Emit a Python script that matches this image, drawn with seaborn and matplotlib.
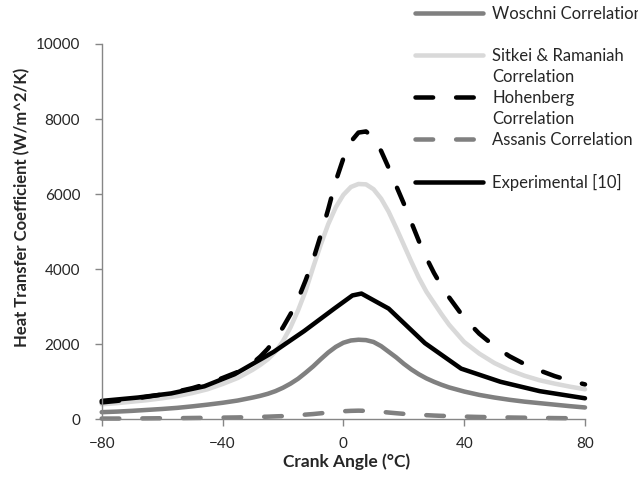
import numpy as np
import pandas as pd
import matplotlib
matplotlib.use('Agg')
import matplotlib.pyplot as plt
from matplotlib.lines import Line2D
import seaborn as sns

# crank angle grid for the correlation curves (deg)
angle = [-80, -75, -70, -65, -60, -55, -50, -45, -40, -35, -30, -27.5, -25, -22.5, -20, -17.5,
         -15, -12.5, -10, -7.5, -5, -2.5, 0, 2.5, 5, 7.5, 10, 12.5, 15, 17.5, 20, 22.5, 25,
         27.5, 30, 32.5, 35, 40, 45, 50, 55, 60, 65, 70, 75, 80]

woschni = [190, 205, 225, 250, 275, 305, 345, 390, 440, 500, 580, 625, 680, 750, 840, 950,
           1080, 1240, 1410, 1600, 1780, 1930, 2040, 2100, 2120, 2110, 2060, 1950, 1800, 1650, 1480, 1330, 1200,
           1090, 1000, 920, 850, 740, 650, 580, 520, 470, 430, 390, 350, 315]
sitkei = [400, 430, 470, 510, 560, 620, 700, 800, 940, 1100, 1320, 1450, 1600, 1800, 2080, 2450,
          2900, 3420, 4050, 4650, 5200, 5650, 5980, 6190, 6270, 6260, 6130, 5880, 5530, 5100, 4650, 4200, 3770,
          3400, 3100, 2800, 2520, 2060, 1750, 1500, 1310, 1160, 1040, 950, 870, 800]
hohenberg = [450, 490, 540, 600, 660, 740, 830, 950, 1100, 1260, 1500, 1670, 1880, 2150, 2450, 2800,
             3200, 3700, 4250, 4900, 5600, 6350, 6950, 7400, 7640, 7670, 7500, 7150, 6700, 6220, 5750, 5250, 4750,
             4300, 3900, 3550, 3250, 2700, 2280, 1950, 1680, 1470, 1300, 1150, 1030, 930]
assanis = [20, 20, 22, 25, 28, 30, 35, 40, 45, 50, 60, 65, 70, 78, 85, 97,
           110, 125, 140, 160, 180, 200, 215, 225, 230, 225, 215, 200, 180, 162, 145, 132, 120,
           110, 100, 92, 85, 72, 62, 55, 48, 42, 37, 32, 28, 25]

# experimental points
exp_angle = [-80, -68, -57, -46, -36, -23, -13, -3, 3, 6, 15, 27, 39, 52, 65, 80]
experimental = [490, 580, 690, 880, 1200, 1800, 2350, 2950, 3300, 3350, 2950, 2030, 1350, 1000, 750, 560]

x_ticks = [-80, -40, 0, 40, 80]
y_ticks = [0, 2000, 4000, 6000, 8000, 10000]

sns.set_theme(style='white')
plt.rcParams['font.family'] = ['Lato', 'DejaVu Sans']

fig = plt.figure(figsize=(6.38, 4.86), dpi=100)
ax = fig.add_axes([101.7 / 638, 66.7 / 486, (585 - 101.7) / 638, (442 - 66.7) / 486])

df = pd.DataFrame({'angle': angle, 'woschni': woschni, 'sitkei': sitkei,
                   'hohenberg': hohenberg, 'assanis': assanis})
df_exp = pd.DataFrame({'angle': exp_angle, 'experimental': experimental})

grey = '#808080'
light = '#d9d9d9'
lw = 3.25
dash = [3.9, 5.1]

sns.lineplot(data=df, x='angle', y='woschni', ax=ax, color=grey, lw=lw)
sns.lineplot(data=df, x='angle', y='sitkei', ax=ax, color=light, lw=lw)
sns.lineplot(data=df, x='angle', y='hohenberg', ax=ax, color='black', lw=lw)
ax.lines[-1].set_dashes(dash)
ax.lines[-1].set_dash_capstyle('round')
sns.lineplot(data=df, x='angle', y='assanis', ax=ax, color=grey, lw=lw)
ax.lines[-1].set_dashes(dash)
ax.lines[-1].set_dash_capstyle('round')
sns.lineplot(data=df_exp, x='angle', y='experimental', ax=ax, color='black', lw=lw)
for ln in ax.lines:
    ln.set_solid_joinstyle('round')
    ln.set_clip_on(False)

ax.set_xlim(-80, 80)
ax.set_ylim(0, 10000)
ax.set_xticks(x_ticks)
ax.set_yticks(y_ticks)
ax.tick_params(axis='both', which='both', direction='out', length=5, width=1,
               color='#868686', labelsize=11, left=True, bottom=True)
ax.tick_params(axis='x', pad=8)
ax.tick_params(axis='y', pad=10.5)
for side in ['top', 'right']:
    ax.spines[side].set_visible(False)
for side in ['left', 'bottom']:
    ax.spines[side].set_color('#868686')
    ax.spines[side].set_linewidth(1)
ax.grid(False)

ax.set_xlabel('Crank Angle (°C)', fontsize=12.5, fontweight='bold')
ax.xaxis.set_label_coords(0.507, -0.09)
ax.set_ylabel('Heat Transfer Coefficient (W/m^2/K)', fontsize=12, fontweight='bold')
ax.yaxis.set_label_coords(-0.148, 0.566)

# legend rows, blank handles carry the wrapped second lines
# (the reference legend runs past the right edge, so its first label is cut there too)
blank = Line2D([], [], color='none')
h_wos = Line2D([], [], color=grey, lw=lw)
h_sit = Line2D([], [], color=light, lw=lw)
h_hoh = Line2D([], [], color='black', lw=lw, dashes=dash, dash_capstyle='round')
h_ass = Line2D([], [], color=grey, lw=lw, dashes=dash, dash_capstyle='round')
h_exp = Line2D([], [], color='black', lw=lw)
handles = [h_wos, blank, h_sit, blank, h_hoh, blank, h_ass, blank, h_exp]
labels = ['Woschni Correlation', ' ', 'Sitkei & Ramaniah', 'Correlation', 'Hohenberg',
          'Correlation', 'Assanis Correlation', ' ', 'Experimental [10]']
fig.legend(handles, labels, loc='upper left', bbox_to_anchor=(415 / 638, 1 - 6 / 486),
           frameon=False, fontsize=12, handlelength=4.1, handletextpad=0.55,
           labelspacing=0.3, borderpad=0, borderaxespad=0)

fig.savefig('out.png', dpi=100)
